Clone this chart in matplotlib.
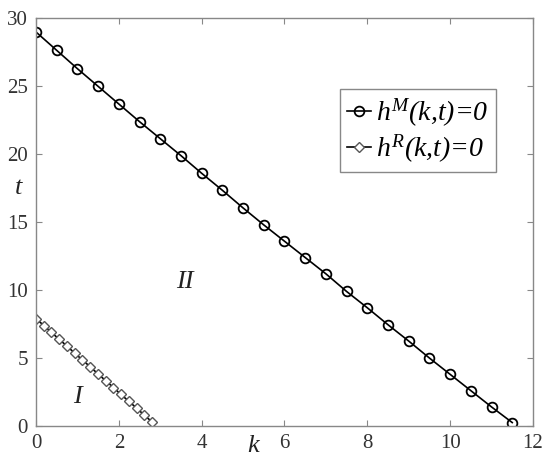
import matplotlib
matplotlib.use("Agg")
import matplotlib.pyplot as plt

# Data
k_M = [0, 0.5, 1, 1.5, 2, 2.5, 3, 3.5, 4, 4.5, 5, 5.5, 6, 6.5, 7, 7.5, 8, 8.5, 9, 9.5, 10, 10.5, 11, 11.5]
t_M = [29.0, 27.65, 26.3, 25.0, 23.7, 22.4, 21.15, 19.9, 18.6, 17.35, 16.05, 14.8, 13.6, 12.4,
       11.2, 9.9, 8.7, 7.45, 6.25, 5.0, 3.8, 2.6, 1.4, 0.25]
k_R = [0, 0.19, 0.37, 0.56, 0.75, 0.93, 1.12, 1.31, 1.49, 1.68, 1.87, 2.05, 2.24, 2.43, 2.61, 2.8]
t_R = [7.9, 7.39, 6.89, 6.38, 5.87, 5.37, 4.86, 4.35, 3.85, 3.34, 2.83, 2.32, 1.82, 1.31, 0.81, 0.3]
x_ticks = [0, 2, 4, 6, 8, 10, 12]
y_ticks = [0, 5, 10, 15, 20, 25, 30]
label_M = r'$h^{M}$(k,t)=0'
label_R = r'$h^{R}$(k,t)=0'

plt.rcParams['font.family'] = ['Liberation Serif', 'DejaVu Serif']
plt.rcParams['mathtext.fontset'] = 'custom'
plt.rcParams['mathtext.rm'] = 'Liberation Serif'
plt.rcParams['mathtext.it'] = 'Liberation Serif:italic'

fig = plt.figure(figsize=(5.5, 4.61), dpi=100)
ax = fig.add_axes([0.0655, 0.076, 0.9035, 0.884])

ax.plot(k_M, t_M, color='black', lw=1.2, marker='o', ms=7, mfc='none',
        mec='black', mew=1.3, label=label_M)
ax.plot(k_R, t_R, color='black', lw=1.2, marker='D', ms=5.5, mfc='white',
        mec='#555555', mew=1.0, label=label_R)

ax.set_xlim(0, 12)
ax.set_ylim(0, 30)
ax.set_xticks(x_ticks)
ax.set_yticks(y_ticks)
ax.tick_params(direction='in', length=4, width=0.8, colors='#888888',
               labelcolor='#333333', labelsize=15, top=True, right=True, pad=6)
for s in ax.spines.values():
    s.set_color('#888888')
    s.set_linewidth(1.0)

ax.text(-0.036, 0.584, 't', transform=ax.transAxes, fontsize=19, style='italic',
        ha='center', va='center', color='#222222')
ax.text(0.436, -0.05, 'k', transform=ax.transAxes, fontsize=19, style='italic',
        ha='center', va='center', color='#222222')
ax.text(3.6, 10.6, 'II', fontsize=19, style='italic', ha='center', va='center', color='#222222')
ax.text(1.0, 2.1, 'I', fontsize=19, style='italic', ha='center', va='center', color='#222222')

leg = ax.legend(loc='upper left', bbox_to_anchor=(0.612, 0.826), borderaxespad=0,
                prop={'size': 20, 'style': 'italic'}, handlelength=0.85, handletextpad=0.2,
                borderpad=0.25, labelspacing=0.15, fancybox=False, framealpha=1)
leg.get_frame().set_edgecolor('#888888')
leg.get_frame().set_linewidth(1.0)

fig.savefig('out.png', dpi=100)
